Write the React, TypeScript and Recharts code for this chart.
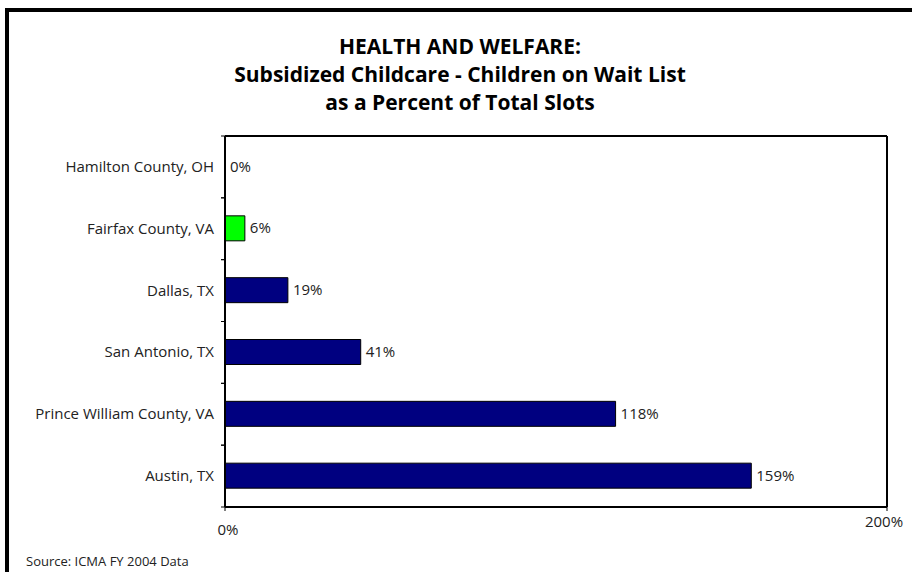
import React from 'react';
import { BarChart, Bar, XAxis, YAxis, Cell, LabelList, ReferenceLine } from 'recharts';

const categories = [
  'Hamilton County, OH',
  'Fairfax County, VA',
  'Dallas, TX',
  'San Antonio, TX',
  'Prince William County, VA',
  'Austin, TX',
];
const values = [0, 6, 19, 41, 118, 159];
const highlight = [false, true, false, false, false, false];
const xTicks = [0, 200];
const titleLines = [
  'HEALTH AND WELFARE:',
  'Subsidized Childcare - Children on Wait List',
  'as a Percent of Total Slots',
];
const sourceText = 'Source: ICMA FY 2004 Data';

const data = categories.map((name, i) => ({ name, value: values[i], hl: highlight[i] }));

const FONT = '"Open Sans", "Lato", sans-serif';

const YTick = (props: any) => {
  const { x, y, payload } = props;
  const off = payload && payload.offset ? payload.offset : 31;
  return (
    <g>
      <line x1={x - 4} x2={x} y1={y - off} y2={y - off} stroke="#000" strokeWidth={1} />
      <line x1={x - 4} x2={x} y1={y + off} y2={y + off} stroke="#000" strokeWidth={1} />
      <text x={x - 11} y={y} dy={5} textAnchor="end" fontSize={15} fill="#222" fontFamily={FONT}>
        {payload.value}
      </text>
    </g>
  );
};

const XTick = (props: any) => {
  const { x, y, payload, index } = props;
  const dy = index === 0 ? 22 : 14;
  const dx = index === 0 ? 3 : -3;
  return (
    <text x={x + dx} y={y} dy={dy} textAnchor="middle" fontSize={15} fill="#222" fontFamily={FONT}>
      {payload.value}%
    </text>
  );
};

const BarLabel = (props: any) => {
  const { x, y, width, height, value } = props;
  return (
    <text x={Number(x) + Number(width || 0) + 5} y={Number(y) + Number(height) / 2} dy={5} fontSize={15} fill="#222" fontFamily={FONT}>
      {value}%
    </text>
  );
};

export default function App() {
  return (
    <div style={{ position: 'absolute', left: 0, top: 0, width: 912, height: 572, background: '#fff', overflow: 'hidden', fontFamily: FONT }}>
      <div
        style={{
          position: 'absolute',
          left: 5,
          top: 8,
          width: 940,
          height: 600,
          borderLeft: '4px solid #000',
          borderTop: '4px solid #000',
          boxSizing: 'border-box',
        }}
      />
      <div
        style={{
          position: 'absolute',
          left: 0,
          top: 32,
          width: 920,
          textAlign: 'center',
          fontWeight: 700,
          fontSize: 21,
          lineHeight: '28px',
          color: '#000',
        }}
      >
        {titleLines.map((t) => (
          <div key={t}>{t}</div>
        ))}
      </div>
      <div style={{ position: 'absolute', left: 0, top: 0 }}>
        <BarChart
          width={912}
          height={572}
          data={data}
          layout="vertical"
          margin={{ top: 136, right: 25, bottom: 25, left: 0 }}
          barSize={25}
        >
          <XAxis
            type="number"
            domain={[0, 200]}
            ticks={xTicks}
            allowDataOverflow
            axisLine={{ stroke: '#000', strokeWidth: 2 }}
            tickLine={{ stroke: '#000' }}
            tickSize={4}
            tick={<XTick />}
            height={40}
            interval={0}
          />
          <YAxis
            type="category"
            dataKey="name"
            width={225}
            axisLine={{ stroke: '#000', strokeWidth: 2 }}
            tickLine={false}
            tickSize={0}
            tickMargin={0}
            tick={<YTick />}
            interval={0}
          />
          <ReferenceLine x={200} stroke="#000" strokeWidth={2} ifOverflow="visible" />
          <ReferenceLine y={categories[0]} position="start" stroke="#000" strokeWidth={2} ifOverflow="visible" />
          <Bar
            dataKey="value"
            fill="#000080"
            stroke="#000"
            strokeWidth={1}
            minPointSize={0.01}
            isAnimationActive={false}
          >
            {data.map((d) => (
              <Cell key={d.name} fill={d.hl ? '#00ff00' : '#000080'} />
            ))}
            <LabelList dataKey="value" content={<BarLabel />} />
          </Bar>
        </BarChart>
      </div>
      <div style={{ position: 'absolute', left: 26, top: 552, fontSize: 13, color: '#222' }}>{sourceText}</div>
    </div>
  );
}
